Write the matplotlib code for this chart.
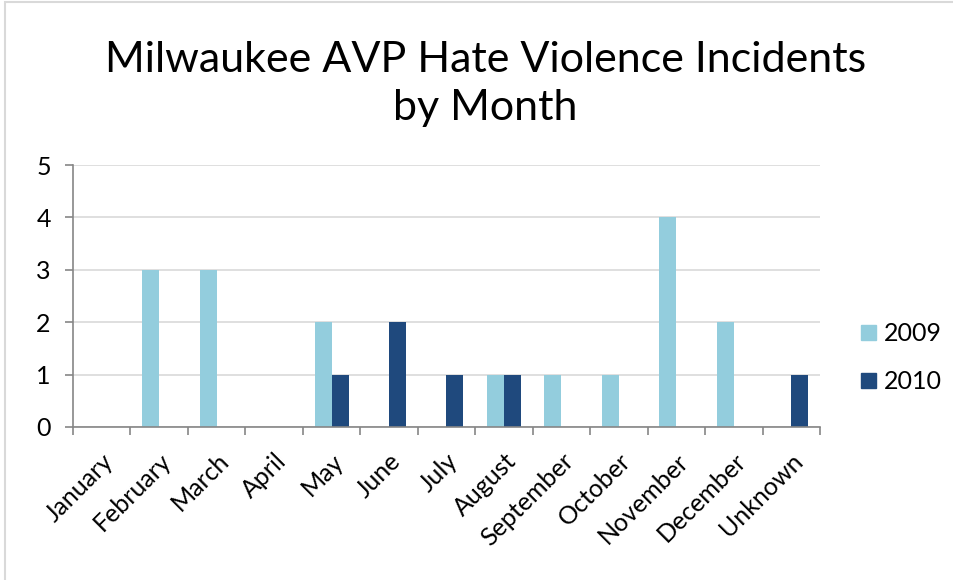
import matplotlib
matplotlib.use("Agg")
import matplotlib.pyplot as plt
import matplotlib.patches as mpatches
import numpy as np

plt.rcParams['font.family'] = ['Lato', 'DejaVu Sans']

# Данные
months = ["January", "February", "March", "April", "May", "June", "July",
          "August", "September", "October", "November", "December", "Unknown"]
v2009 = [0, 3, 3, 0, 2, 0, 0, 1, 1, 1, 4, 2, 0]
v2010 = [0, 0, 0, 0, 1, 2, 1, 1, 0, 0, 0, 0, 1]

c2009 = "#93CDDD"
c2010 = "#1F497D"

fig = plt.figure(figsize=(9.54, 5.8), dpi=100)
ax = fig.add_axes([0.0765, 0.2638, 0.783, 0.4517])

x = np.arange(len(months))
w = 0.295
ax.bar(x - w / 2, v2009, w, color=c2009, label="2009", zorder=2)
ax.bar(x + w / 2, v2010, w, color=c2010, label="2010", zorder=2)

ax.set_xlim(-0.5, len(months) - 0.5)
ax.set_ylim(0, 5)
ax.set_yticks(range(6))
ax.yaxis.grid(True, color="#D9D9D9", linewidth=1.2, zorder=0)
ax.set_axisbelow(True)

# Засечки на границах категорий
ax.set_xticks(np.arange(-0.5, len(months) + 0.5, 1))
ax.set_xticklabels([])
ax.set_xticks(x, minor=True)
ax.set_xticklabels(months, minor=True, rotation=45, ha="right",
                   rotation_mode="anchor", fontsize=18)
ax.tick_params(axis="x", which="minor", length=0, pad=16)
ax.tick_params(axis="x", which="major", length=6, color="#868686", width=1.2)
ax.tick_params(axis="y", length=6, color="#868686", width=1.2, labelsize=18, pad=10)

for s in ["top", "right"]:
    ax.spines[s].set_visible(False)
for s in ["left", "bottom"]:
    ax.spines[s].set_color("#868686")
    ax.spines[s].set_linewidth(1.2)

# Заголовок в две строки
fig.text(0.509, 0.876, "Milwaukee AVP Hate Violence Incidents",
         ha="center", va="baseline", fontsize=31)
fig.text(0.509, 0.793, "by Month", ha="center", va="baseline", fontsize=31)

handles = [mpatches.Patch(color=c2009, label="2009"),
           mpatches.Patch(color=c2010, label="2010")]
fig.legend(handles=handles, loc="center left", bbox_to_anchor=(0.903, 0.383),
           frameon=False, fontsize=18, handlelength=0.6, handleheight=0.6,
           handletextpad=0.3, labelspacing=1.0, borderpad=0, borderaxespad=0)

fig.patches.append(mpatches.Rectangle((0.005, -0.01), 1.1, 1.006, transform=fig.transFigure,
                                      fill=False, edgecolor="#D9D9D9", linewidth=1.5))

fig.savefig("out.png", dpi=100)
